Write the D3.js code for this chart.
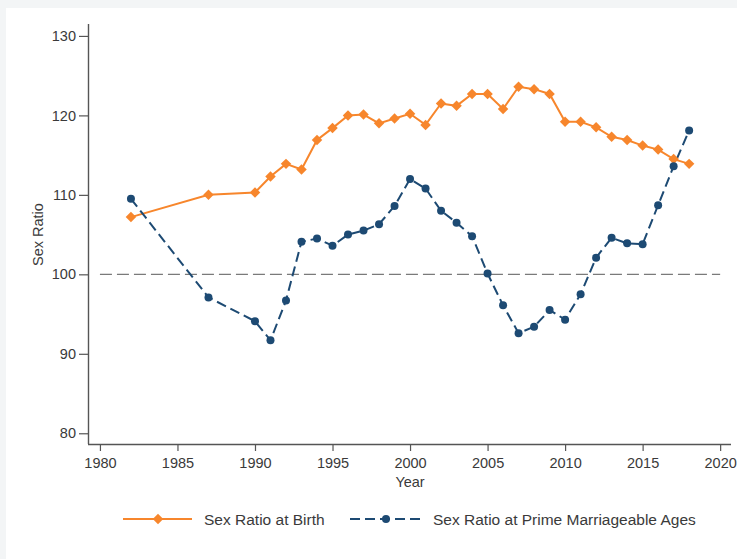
<!DOCTYPE html>
<html>
<head>
<meta charset="utf-8">
<script src="https://cdn.jsdelivr.net/npm/d3@7"></script>
<style>
  body { margin: 0; background: #fff; }
  svg { display: block; font-family: "Liberation Sans", Arial, sans-serif; }
</style>
</head>
<body>
<svg id="chart" width="737" height="559"></svg>
<script>
// years of observation
const years = [1982, 1987, 1990, 1991, 1992, 1993, 1994, 1995, 1996, 1997, 1998, 1999,
  2000, 2001, 2002, 2003, 2004, 2005, 2006, 2007, 2008, 2009, 2010, 2011, 2012, 2013,
  2014, 2015, 2016, 2017, 2018];

// sex ratio at birth (orange)
const birthRatio = [107.2, 110.0, 110.3, 112.3, 113.9, 113.2, 116.9, 118.4, 120.0, 120.1,
  119.0, 119.6, 120.2, 118.8, 121.5, 121.2, 122.7, 122.7, 120.8, 123.6, 123.3, 122.7,
  119.2, 119.2, 118.5, 117.3, 116.9, 116.2, 115.7, 114.5, 113.9];

// sex ratio at prime marriageable ages (blue)
const primeRatio = [109.5, 97.1, 94.1, 91.7, 96.7, 104.1, 104.5, 103.6, 105.0, 105.5,
  106.3, 108.6, 112.0, 110.8, 108.0, 106.5, 104.8, 100.1, 96.1, 92.6, 93.4, 95.5,
  94.3, 97.5, 102.1, 104.6, 103.9, 103.8, 108.7, 113.6, 118.1];

const xTicks = [1980, 1985, 1990, 1995, 2000, 2005, 2010, 2015, 2020];
const yTicks = [80, 90, 100, 110, 120, 130];
const refValue = 100;

const orange = "#f7862c";
const navy = "#1d4a73";
const textCol = "#3a3a3a";
const fs = 14.5;
const legFs = 15.5;

const svg = d3.select("#chart");

// faint frame around the picture
svg.append("rect").attr("x", 0).attr("y", 0).attr("width", 737).attr("height", 559)
  .attr("fill", "#f3f5f6");
svg.append("rect").attr("x", 6).attr("y", 8).attr("width", 731).attr("height", 551)
  .attr("fill", "#fff");

const x = d3.scaleLinear().domain([1979.23, 2020.7]).range([88, 731]);
const y = d3.scaleLinear().domain([78.65, 131.5]).range([444, 24]);

// axes
const xAxis = svg.append("g")
  .attr("transform", "translate(0,444)")
  .call(d3.axisBottom(x).tickValues(xTicks).tickFormat(d3.format("d")).tickSize(7).tickPadding(7));
const yAxis = svg.append("g")
  .attr("transform", "translate(88,0)")
  .call(d3.axisLeft(y).tickValues(yTicks).tickSize(9).tickPadding(3));

[xAxis, yAxis].forEach(a => {
  a.select(".domain").attr("stroke", "#555").attr("stroke-width", 1.4);
  a.selectAll(".tick line").attr("stroke", "#555").attr("stroke-width", 1.2);
  a.selectAll(".tick text").attr("fill", textCol).attr("font-size", fs);
});
// domain lines without end caps
xAxis.select(".domain").attr("d", `M88,0.5H731`);
yAxis.select(".domain").attr("d", `M0.5,24V444`);

// axis titles
svg.append("text").attr("x", x(2000)).attr("y", 487)
  .attr("text-anchor", "middle").attr("font-size", fs).attr("fill", textCol).text("Year");
svg.append("text").attr("transform", `translate(43,${y(105)}) rotate(-90)`)
  .attr("text-anchor", "middle").attr("font-size", fs).attr("fill", textCol).text("Sex Ratio");

// reference line at 100
svg.append("line")
  .attr("x1", x(1980)).attr("x2", x(2020))
  .attr("y1", y(refValue)).attr("y2", y(refValue))
  .attr("stroke", "#7a7a7a").attr("stroke-width", 1.4)
  .attr("stroke-dasharray", "12,5");

const birthData = years.map((yr, i) => ({ year: yr, value: birthRatio[i] }));
const primeData = years.map((yr, i) => ({ year: yr, value: primeRatio[i] }));

const line = d3.line().x(d => x(d.year)).y(d => y(d.value));

// orange series
svg.append("path").datum(birthData)
  .attr("d", line).attr("fill", "none")
  .attr("stroke", orange).attr("stroke-width", 2);

// blue dashed series
svg.append("path").datum(primeData)
  .attr("d", line).attr("fill", "none")
  .attr("stroke", navy).attr("stroke-width", 2)
  .attr("stroke-dasharray", "10,5");

const diamond = d3.symbol().type(d3.symbolDiamond2).size(70);

svg.append("g").selectAll("path")
  .data(birthData).enter().append("path")
  .attr("d", diamond)
  .attr("transform", d => `translate(${x(d.year)},${y(d.value)})`)
  .attr("fill", orange);

svg.append("g").selectAll("circle")
  .data(primeData).enter().append("circle")
  .attr("cx", d => x(d.year)).attr("cy", d => y(d.value))
  .attr("r", 4).attr("fill", navy);

// legend
const legY = 519;
const leg = svg.append("g");
leg.append("line").attr("x1", 123).attr("x2", 192).attr("y1", legY).attr("y2", legY)
  .attr("stroke", orange).attr("stroke-width", 2);
leg.append("path").attr("d", diamond)
  .attr("transform", `translate(158,${legY})`).attr("fill", orange);
leg.append("text").attr("x", 204).attr("y", legY + 5.5)
  .attr("font-size", legFs).attr("fill", textCol).text("Sex Ratio at Birth");

leg.append("line").attr("x1", 350).attr("x2", 422).attr("y1", legY).attr("y2", legY)
  .attr("stroke", navy).attr("stroke-width", 2).attr("stroke-dasharray", "10,5");
leg.append("circle").attr("cx", 386).attr("cy", legY).attr("r", 4).attr("fill", navy);
leg.append("text").attr("x", 433).attr("y", legY + 5.5)
  .attr("font-size", legFs).attr("fill", textCol).text("Sex Ratio at Prime Marriageable Ages");
</script>
</body>
</html>
